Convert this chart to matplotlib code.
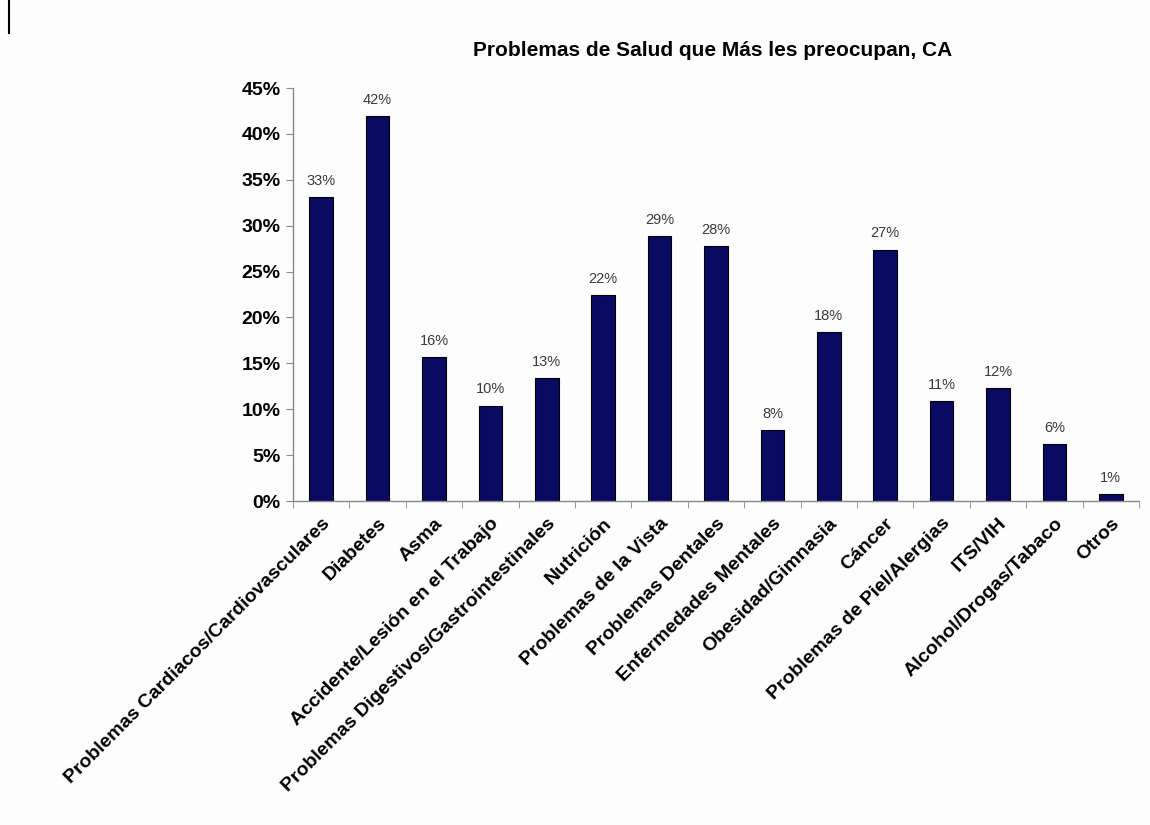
import matplotlib
matplotlib.use("Agg")
import matplotlib.pyplot as plt
from matplotlib.lines import Line2D
from matplotlib.ticker import FixedLocator, FuncFormatter

plt.rcParams['font.family'] = ['Liberation Sans', 'DejaVu Sans']

categorias = [
    'Problemas Cardiacos/Cardiovasculares', 'Diabetes', 'Asma',
    'Accidente/Lesión en el Trabajo', 'Problemas Digestivos/Gastrointestinales',
    'Nutrición', 'Problemas de la Vista', 'Problemas Dentales',
    'Enfermedades Mentales', 'Obesidad/Gimnasia', 'Cáncer',
    'Problemas de Piel/Alergias', 'ITS/VIH', 'Alcohol/Drogas/Tabaco', 'Otros',
]
porcentajes = [33.1, 41.9, 15.7, 10.4, 13.4, 22.4, 28.9, 27.8,
               7.7, 18.4, 27.4, 10.9, 12.3, 6.2, 0.8]
marcas_y = [0, 5, 10, 15, 20, 25, 30, 35, 40, 45]

fig = plt.figure(figsize=(11.5, 8.25), dpi=100)
fig.patch.set_facecolor('#fdfdfd')
ax = fig.add_axes([0.2548, 0.3927, 0.9904 - 0.2548, 0.8933 - 0.3927])
ax.set_facecolor('#fdfdfd')

x = list(range(len(categorias)))
ax.bar(x, porcentajes, width=0.42, color='#0a0a62', edgecolor='black', linewidth=0.8)

for xi, v in zip(x, porcentajes):
    ax.text(xi, v + 1.0, f'{round(v):.0f}%', ha='center', va='bottom',
            fontsize=10.5, color='#3a3a3a')

ax.set_xlim(-0.5, len(categorias) - 0.5)
ax.set_ylim(0, 45)
ax.yaxis.set_major_locator(FixedLocator(marcas_y))
ax.yaxis.set_major_formatter(FuncFormatter(lambda v, p: f'{v:.0f}%'))
ax.tick_params(axis='y', length=5, color='#888888', labelsize=14, pad=4)
for lab in ax.get_yticklabels():
    lab.set_fontweight('bold')

ax.set_xticks(x)
ax.set_xticklabels(categorias, rotation=45, ha='right', rotation_mode='anchor',
                   fontsize=14, fontweight='bold')
ax.tick_params(axis='x', length=0, pad=10)
ax.set_xticks([i + 0.5 for i in range(-1, len(categorias))], minor=True)
ax.tick_params(axis='x', which='minor', length=5, color='#888888')

for s in ['top', 'right']:
    ax.spines[s].set_visible(False)
for s in ['left', 'bottom']:
    ax.spines[s].set_color('#888888')
    ax.spines[s].set_linewidth(1.0)

fig.text(0.620, 0.939, 'Problemas de Salud que Más les preocupan, CA',
         ha='center', va='center', fontsize=15, fontweight='bold')

fig.add_artist(Line2D([0.0078, 0.0078], [1.0, 0.96], color='black', linewidth=1.5))

fig.savefig('out.png', dpi=100, facecolor=fig.get_facecolor())
